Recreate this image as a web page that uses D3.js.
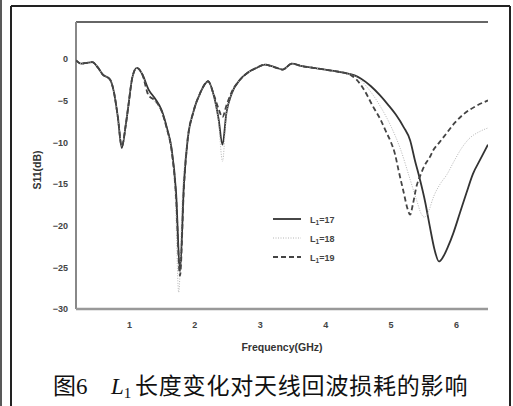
<!DOCTYPE html>
<html>
<head>
<meta charset="utf-8">
<script src="https://cdn.jsdelivr.net/npm/d3@7"></script>
<style>
  body { margin: 0; background: #fff; }
  svg { display: block; }
  .tick text { font-family: "Liberation Sans", Arial, sans-serif; font-weight: bold; font-size: 9px; fill: #444; }
</style>
</head>
<body>
<svg id="chart"></svg>
<script>
// ── data ──
const xTicks = [1, 2, 3, 4, 5, 6];
const yTicks = [0, -5, -10, -15, -20, -25, -30];
const seriesNames = ["17", "18", "19"];

const freqL17 = [0.19, 0.27, 0.35, 0.44, 0.52, 0.60, 0.71, 0.77, 0.83, 0.89, 0.95, 0.99, 1.05, 1.12, 1.20, 1.30, 1.40, 1.50, 1.58, 1.65, 1.72, 1.78, 1.84, 1.90, 1.98, 2.09, 2.21, 2.30, 2.37, 2.43, 2.49, 2.57, 2.70, 2.83, 2.95, 3.08, 3.18, 3.26, 3.35, 3.49, 3.65, 3.82, 4.00, 4.15, 4.30, 4.45, 4.55, 4.70, 4.84, 4.96, 5.08, 5.20, 5.30, 5.37, 5.45, 5.53, 5.60, 5.67, 5.74, 5.80, 5.88, 5.96, 6.06, 6.16, 6.26, 6.37, 6.49];
const dbL17   = [-0.2, -0.6, -0.5, -0.4, -1.0, -1.9, -2.5, -4.0, -7.0, -10.7, -8.0, -5.7, -2.3, -1.1, -1.8, -3.7, -4.8, -6.2, -8.3, -10.7, -16.0, -25.5, -15.0, -9.5, -6.5, -4.1, -2.7, -4.5, -7.2, -10.3, -6.5, -4.2, -2.5, -1.6, -1.1, -0.7, -0.9, -1.1, -1.3, -0.6, -0.9, -1.1, -1.3, -1.5, -1.7, -2.0, -2.4, -3.3, -4.4, -5.5, -6.7, -8.2, -9.8, -12.1, -14.5, -17.2, -20.1, -22.8, -24.3, -23.8, -22.5, -20.9, -18.5, -16.1, -13.8, -12.1, -10.3];

const freqL18 = [0.19, 0.27, 0.35, 0.44, 0.52, 0.60, 0.71, 0.77, 0.83, 0.89, 0.95, 0.99, 1.05, 1.12, 1.20, 1.30, 1.40, 1.50, 1.58, 1.65, 1.71, 1.76, 1.82, 1.90, 1.98, 2.09, 2.21, 2.30, 2.37, 2.43, 2.49, 2.57, 2.70, 2.83, 2.95, 3.08, 3.18, 3.26, 3.35, 3.49, 3.65, 3.82, 4.00, 4.15, 4.30, 4.50, 4.70, 4.85, 5.00, 5.15, 5.30, 5.40, 5.47, 5.52, 5.58, 5.66, 5.76, 5.86, 5.97, 6.08, 6.20, 6.37, 6.49];
const dbL18   = [-0.2, -0.6, -0.5, -0.4, -1.0, -1.9, -2.5, -4.0, -7.0, -10.3, -8.0, -5.7, -2.3, -1.1, -1.8, -4.2, -5.2, -6.4, -8.6, -11.0, -17.0, -28.0, -16.0, -9.5, -6.5, -4.1, -2.7, -4.6, -7.6, -12.3, -6.7, -4.2, -2.5, -1.6, -1.1, -0.7, -0.9, -1.1, -1.3, -0.6, -0.9, -1.1, -1.3, -1.5, -1.7, -2.3, -4.0, -5.8, -8.0, -10.8, -14.5, -17.0, -18.6, -19.0, -18.3, -16.5, -15.0, -13.9, -12.3, -10.8, -9.6, -8.7, -8.3];

const freqL19 = [0.19, 0.27, 0.35, 0.44, 0.52, 0.60, 0.71, 0.77, 0.83, 0.89, 0.95, 0.99, 1.05, 1.12, 1.20, 1.30, 1.40, 1.50, 1.58, 1.65, 1.72, 1.78, 1.84, 1.90, 1.98, 2.09, 2.21, 2.30, 2.37, 2.43, 2.49, 2.57, 2.70, 2.83, 2.95, 3.08, 3.18, 3.26, 3.35, 3.49, 3.65, 3.82, 4.00, 4.15, 4.30, 4.40, 4.48, 4.60, 4.73, 4.84, 4.94, 5.00, 5.07, 5.12, 5.20, 5.26, 5.30, 5.34, 5.40, 5.45, 5.52, 5.60, 5.65, 5.75, 5.86, 5.98, 6.11, 6.30, 6.49];
const dbL19   = [-0.2, -0.6, -0.5, -0.4, -1.0, -1.9, -2.5, -4.0, -7.0, -10.5, -8.0, -5.7, -2.3, -1.1, -1.8, -4.4, -5.0, -6.3, -8.4, -10.9, -16.5, -26.0, -15.5, -9.5, -6.5, -4.1, -2.7, -4.4, -6.0, -7.0, -5.6, -4.0, -2.5, -1.6, -1.1, -0.7, -0.9, -1.1, -1.3, -0.6, -0.9, -1.1, -1.3, -1.5, -1.7, -2.0, -2.5, -3.8, -5.7, -7.2, -8.9, -9.9, -11.5, -13.3, -16.0, -18.0, -18.7, -17.5, -15.2, -14.1, -12.8, -11.8, -11.0, -10.0, -8.9, -7.7, -6.7, -5.7, -5.0];

// ── layout ──
const W = 513, H = 406;
const plot = { left: 76, right: 488, top: 22, bottom: 309 };

const svg = d3.select("#chart").attr("width", W).attr("height", H);
svg.append("rect").attr("width", W).attr("height", H).attr("fill", "#fff");

// outer frame of the scanned figure
svg.append("line").attr("x1", 1).attr("x2", 1).attr("y1", 0).attr("y2", H).attr("stroke", "#222").attr("stroke-width", 1.5);
svg.append("line").attr("x1", 11).attr("x2", 11).attr("y1", 6).attr("y2", H).attr("stroke", "#222").attr("stroke-width", 2);
svg.append("line").attr("x1", 11).attr("x2", 510).attr("y1", 6).attr("y2", 6).attr("stroke", "#222").attr("stroke-width", 2);
svg.append("line").attr("x1", 510).attr("x2", 510).attr("y1", 6).attr("y2", H).attr("stroke", "#222").attr("stroke-width", 2);

const x = d3.scaleLinear().domain([0.19, 6.49]).range([plot.left, plot.right]);
const y = d3.scaleLinear().domain([-30, 4.4]).range([plot.bottom, plot.top]);

// axes
svg.append("g").attr("transform", `translate(${plot.left - 5},0)`)
  .call(d3.axisLeft(y).tickValues(yTicks).tickSize(0).tickFormat(d3.format("d")))
  .call(g => g.select(".domain").remove());
svg.append("g").attr("transform", `translate(0,${plot.bottom + 10})`)
  .call(d3.axisBottom(x).tickValues(xTicks).tickSize(0).tickFormat(d3.format("d")))
  .call(g => g.select(".domain").remove());

svg.append("line").attr("x1", plot.left).attr("x2", plot.right).attr("y1", plot.top).attr("y2", plot.top).attr("stroke", "#333").attr("stroke-width", 1.5);
svg.append("line").attr("x1", plot.left).attr("x2", plot.left).attr("y1", plot.top).attr("y2", plot.bottom).attr("stroke", "#888").attr("stroke-width", 2);
svg.append("line").attr("x1", plot.left).attr("x2", plot.right).attr("y1", plot.bottom).attr("y2", plot.bottom).attr("stroke", "#999").attr("stroke-width", 2.5);

// axis titles
svg.append("text").attr("x", 282).attr("y", 351).attr("text-anchor", "middle")
  .attr("font-family", "Liberation Sans, Arial, sans-serif").attr("font-weight", "bold").attr("font-size", 10.5).attr("fill", "#333")
  .text("Frequency(GHz)");
svg.append("text").attr("transform", "translate(41,170) rotate(-90)").attr("text-anchor", "middle")
  .attr("font-family", "Liberation Sans, Arial, sans-serif").attr("font-weight", "bold").attr("font-size", 10.5).attr("fill", "#333")
  .text("S11(dB)");

// curves
const series = [
  { name: seriesNames[0], f: freqL17, v: dbL17, stroke: "#333", width: 1.8, dash: null },
  { name: seriesNames[1], f: freqL18, v: dbL18, stroke: "#b5b5b5", width: 1, dash: "1,1.5" },
  { name: seriesNames[2], f: freqL19, v: dbL19, stroke: "#444", width: 1.8, dash: "5,3" }
];
const line = d3.line().x(d => x(d[0])).y(d => y(d[1])).curve(d3.curveMonotoneX);
svg.append("clipPath").attr("id", "clip").append("rect")
  .attr("x", plot.left).attr("y", plot.top).attr("width", plot.right - plot.left).attr("height", plot.bottom - plot.top);

svg.append("g").attr("clip-path", "url(#clip)").selectAll("path.curve").data(series).join("path").attr("class", "curve")
  .attr("fill", "none").attr("stroke", d => d.stroke).attr("stroke-width", d => d.width)
  .attr("stroke-dasharray", d => d.dash).attr("stroke-linejoin", "round")
  .attr("d", d => line(d.f.map((f, i) => [f, d.v[i]])));

// legend
const legend = svg.append("g").attr("transform", "translate(273,219)");
const rows = legend.selectAll("g").data(series).join("g").attr("transform", (d, i) => `translate(0,${i * 19})`);
rows.append("line").attr("x1", 0).attr("x2", 28).attr("stroke", d => d.stroke).attr("stroke-width", d => d.width).attr("stroke-dasharray", d => d.dash);
const lt = rows.append("text").attr("x", 37).attr("y", 3.5)
  .attr("font-family", "Liberation Sans, Arial, sans-serif").attr("font-weight", "bold").attr("font-size", 9).attr("fill", "#444");
lt.append("tspan").text("L");
lt.append("tspan").attr("font-size", 6.5).attr("dy", 2).text("1");
lt.append("tspan").attr("dy", -2).text(d => "=" + d.name);

// caption
const cap = svg.append("text").attr("x", 53).attr("y", 394).attr("font-size", 23).attr("fill", "#111");
cap.append("tspan").attr("font-family", "Noto Sans CJK SC").text("图");
cap.append("tspan").attr("font-family", "Liberation Serif, serif").text("6");
cap.append("tspan").attr("x", 111).attr("font-family", "Liberation Serif, serif").attr("font-style", "italic").text("L");
cap.append("tspan").attr("font-family", "Liberation Serif, serif").attr("font-size", 15).attr("dy", 4).text("1");
cap.append("tspan").attr("x", 135).attr("dy", -4).attr("font-family", "Noto Sans CJK SC").attr("letter-spacing", 0.8).text("长度变化对天线回波损耗的影响");
</script>
</body>
</html>
